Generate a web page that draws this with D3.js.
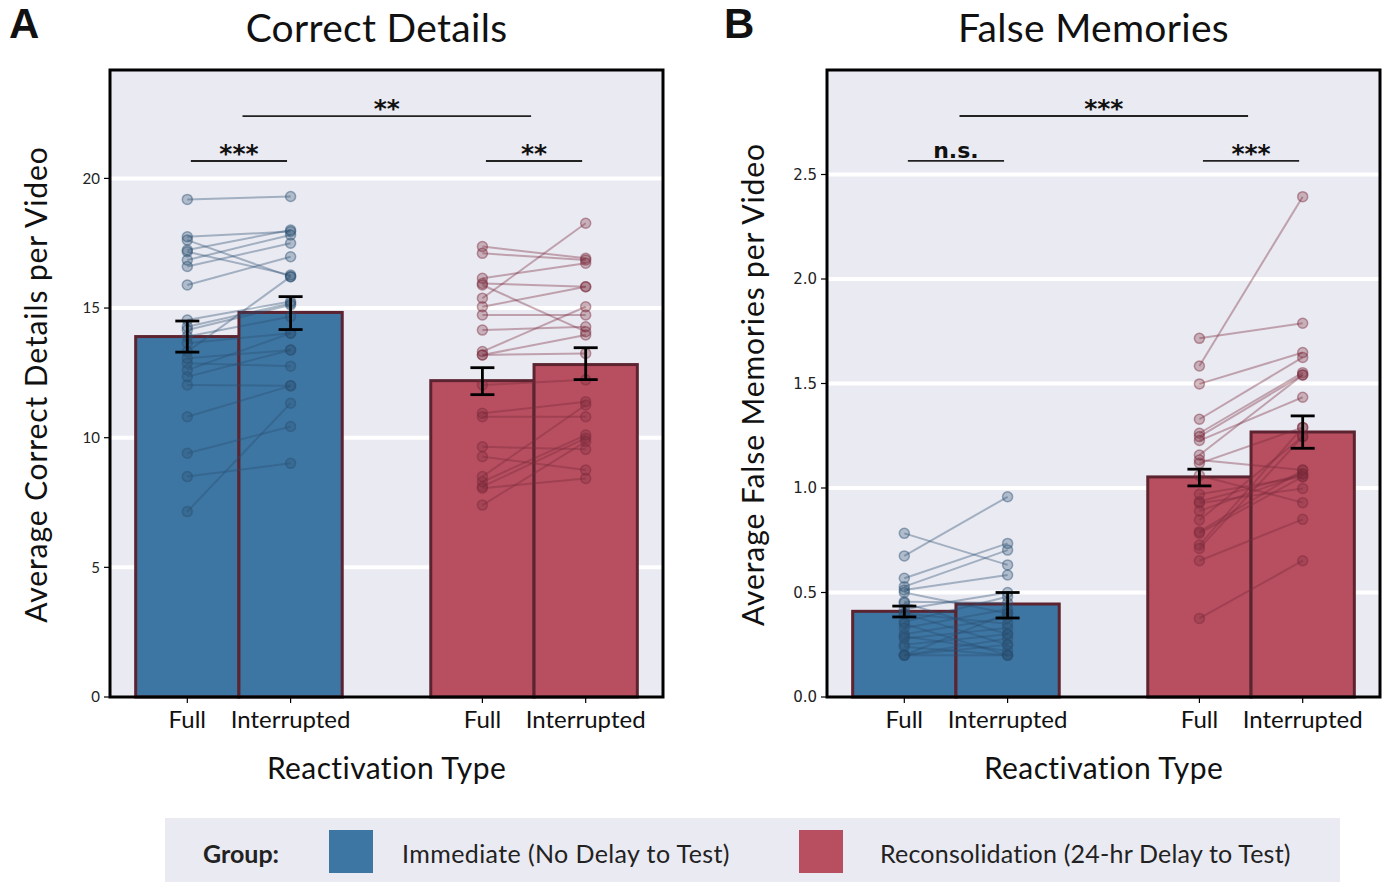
<!DOCTYPE html>
<html>
<head>
<meta charset="utf-8">
<script src="https://cdn.jsdelivr.net/npm/d3@7"></script>
<style>
  html, body { margin: 0; padding: 0; background: #ffffff; }
  svg { display: block; }
</style>
</head>
<body>
<svg id="chart" width="1385" height="882"></svg>
<script>
// ---------------- DATA ----------------
const groups = ["Immediate (No Delay to Test)", "Reconsolidation (24-hr Delay to Test)"];
const conditions = ["Full", "Interrupted"];

// Panel A: Correct details
const correctMeans = [[13.9, 14.83], [12.2, 12.82]];
const correctErrLow = [[13.3, 14.17], [11.66, 12.24]];
const correctErrHigh = [[14.5, 15.44], [12.7, 13.47]];
const correctImmFull = [19.19, 17.75, 17.62, 17.24, 17.17, 16.85, 16.6, 15.89, 14.54, 14.28, 14.15, 13.9, 13.64, 13.32, 13.06, 12.87, 12.61, 12.35, 12.03, 10.81, 9.4, 8.5, 7.15];
const correctImmInt  = [19.3, 17.95, 16.21, 18.01, 16.27, 17.82, 17.5, 16.98, 15.25, 15.18, 15.12, 14.67, 14.03, 16.21, 13.38, 12.76, 14.03, 13.38, 12.0, 12.0, 10.43, 9.01, 11.33];
const correctRecFull = [17.37, 17.11, 16.15, 15.95, 15.89, 15.38, 15.05, 14.73, 14.15, 13.32, 13.19, 13.19, 12.03, 10.94, 10.81, 9.65, 9.27, 8.5, 8.3, 8.11, 8.05, 7.4];
const correctRecInt  = [16.92, 16.85, 16.73, 15.82, 14.09, 18.27, 15.82, 14.73, 14.28, 15.05, 13.96, 13.25, 12.23, 11.39, 10.81, 9.55, 8.75, 11.26, 10.1, 9.98, 8.43, 9.85];
const correctTicks = [0, 5, 10, 15, 20];

// Panel B: False memories
const falseMeans = [[0.41, 0.445], [1.053, 1.268]];
const falseErrLow = [[0.383, 0.378], [1.01, 1.19]];
const falseErrHigh = [[0.435, 0.50], [1.09, 1.345]];
const falseImmFull = [0.783, 0.675, 0.568, 0.528, 0.512, 0.5, 0.456, 0.45, 0.42, 0.4, 0.4, 0.36, 0.35, 0.33, 0.3, 0.29, 0.28, 0.25, 0.24, 0.2, 0.2, 0.2, 0.2];
const falseImmInt  = [0.632, 0.958, 0.735, 0.703, 0.584, 0.4, 0.45, 0.3, 0.5, 0.35, 0.25, 0.48, 0.2, 0.42, 0.38, 0.22, 0.33, 0.3, 0.2, 0.25, 0.28, 0.2, 0.4];
const falseRecFull = [1.716, 1.584, 1.498, 1.329, 1.262, 1.246, 1.227, 1.158, 1.134, 1.118, 1.06, 0.97, 0.935, 0.927, 0.89, 0.847, 0.791, 0.783, 0.727, 0.711, 0.652, 0.376];
const falseRecInt  = [1.788, 2.394, 1.648, 1.625, 1.552, 1.541, 1.434, 1.541, 1.086, 1.29, 0.93, 1.054, 1.067, 0.998, 1.067, 1.246, 1.086, 1.054, 1.29, 1.246, 0.85, 0.652];
const falseTicks = [0.0, 0.5, 1.0, 1.5, 2.0, 2.5];

// Significance annotations: [group, side] endpoints (side 0 = group center, -1/1 = bar)
const correctSig = [
  { from: [0, 0], to: [1, 0], at: 22.4, label: "**" },
  { from: [0, -1], to: [0, 1], at: 20.67, label: "***" },
  { from: [1, -1], to: [1, 1], at: 20.67, label: "**" }
];
const falseSig = [
  { from: [0, 0], to: [1, 0], at: 2.78, label: "***" },
  { from: [0, -1], to: [0, 1], at: 2.565, label: "n.s." },
  { from: [1, -1], to: [1, 1], at: 2.565, label: "***" }
];

// ---------------- STYLE ----------------
const blue = "#3e76a3";
const red = "#b84f60";
const edge = "#5b2430";
const lineColors = ["#2a4f70", "#7a2a3c"];
const bg = "#eaeaf2";
const gillFont = "Lato, 'Open Sans', sans-serif";

const svg = d3.select("#chart");

function drawPanel(cfg) {
  const { x0, x1, y0, y1, yMax, means, lo, hi, pts, ticks, sig, title, letter, letterX, ylabel, tickFont, tickFmt } = cfg;
  const g = svg.append("g");
  const x = d3.scaleLinear().domain([-0.437, 1.437]).range([x0, x1]);
  const y = d3.scaleLinear().domain([0, yMax]).range([y1, y0]);
  const half = 0.35;
  const off = [-0.175, 0.175];

  g.append("rect").attr("x", x0).attr("y", y0).attr("width", x1 - x0).attr("height", y1 - y0).attr("fill", bg);
  g.selectAll("line.grid").data(ticks.filter(t => t > 0)).join("line")
    .attr("x1", x0).attr("x2", x1).attr("y1", d => y(d)).attr("y2", d => y(d))
    .attr("stroke", "#ffffff").attr("stroke-width", 4);

  const barData = [];
  for (let gi = 0; gi < 2; gi++) for (let ci = 0; ci < 2; ci++) barData.push({ gi, ci, v: means[gi][ci], lo: lo[gi][ci], hi: hi[gi][ci] });
  g.selectAll("rect.bar").data(barData).join("rect")
    .attr("x", d => x(d.gi + off[d.ci] - half / 2))
    .attr("width", d => x(half) - x(0))
    .attr("y", d => y(d.v))
    .attr("height", d => y(0) - y(d.v))
    .attr("fill", d => d.gi === 0 ? blue : red)
    .attr("stroke", edge).attr("stroke-width", 3);

  for (let gi = 0; gi < 2; gi++) {
    const a = pts[gi][0], b = pts[gi][1];
    const n = Math.min(a.length, b.length);
    const xa = x(gi + off[0]), xb = x(gi + off[1]);
    const lg = g.append("g");
    for (let i = 0; i < n; i++) {
      lg.append("line").attr("x1", xa).attr("x2", xb).attr("y1", y(a[i])).attr("y2", y(b[i]))
        .attr("stroke", lineColors[gi]).attr("stroke-opacity", 0.38).attr("stroke-width", 2);
    }
    [[a, xa], [b, xb]].forEach(([arr, xx]) => {
      lg.selectAll(null).data(arr.slice(0, n)).join("circle")
        .attr("cx", xx).attr("cy", d => y(d)).attr("r", 5)
        .attr("fill", lineColors[gi]).attr("fill-opacity", 0.3)
        .attr("stroke", lineColors[gi]).attr("stroke-opacity", 0.45).attr("stroke-width", 1.5);
    });
  }

  const eb = g.append("g").attr("stroke", "#000").attr("stroke-width", 2.8);
  barData.forEach(d => {
    const cx = x(d.gi + off[d.ci]);
    eb.append("line").attr("x1", cx).attr("x2", cx).attr("y1", y(d.lo)).attr("y2", y(d.hi));
    eb.append("line").attr("x1", cx - 12).attr("x2", cx + 12).attr("y1", y(d.lo)).attr("y2", y(d.lo));
    eb.append("line").attr("x1", cx - 12).attr("x2", cx + 12).attr("y1", y(d.hi)).attr("y2", y(d.hi));
  });

  sig.forEach(s => {
    const xs = s.from[1] === 0 ? x(s.from[0] + 0.012) : x(s.from[0] + s.from[1] * 0.175 + 0.012);
    const xe = s.to[1] === 0 ? x(s.to[0] - 0.01) : x(s.to[0] + s.to[1] * 0.175 - 0.012);
    g.append("line").attr("x1", xs).attr("x2", xe).attr("y1", y(s.at)).attr("y2", y(s.at))
      .attr("stroke", "#222").attr("stroke-width", 1.8);
    const isNS = s.label === "n.s.";
    g.append("text").attr("x", (xs + xe) / 2).attr("y", y(s.at) - (isNS ? 3 : -1))
      .attr("text-anchor", "middle")
      .attr("font-family", "'DejaVu Sans', sans-serif")
      .attr("font-weight", "bold")
      .attr("font-size", isNS ? 22 : 25)
      .attr("fill", "#111").text(s.label);
  });

  g.append("rect").attr("x", x0).attr("y", y0).attr("width", x1 - x0).attr("height", y1 - y0)
    .attr("fill", "none").attr("stroke", "#000").attr("stroke-width", 3);

  ticks.forEach(t => {
    g.append("line").attr("x1", x0 - 6).attr("x2", x0).attr("y1", y(t)).attr("y2", y(t)).attr("stroke", "#000").attr("stroke-width", 1.2);
    g.append("text").attr("x", x0 - 10).attr("y", y(t)).attr("dy", "0.35em").attr("text-anchor", "end")
      .attr("font-family", tickFont).attr("font-size", 15).attr("fill", "#222").text(tickFmt(t));
  });
  for (let gi = 0; gi < 2; gi++) for (let ci = 0; ci < 2; ci++) {
    const cx = x(gi + off[ci]);
    g.append("line").attr("x1", cx).attr("x2", cx).attr("y1", y1).attr("y2", y1 + 6).attr("stroke", "#000").attr("stroke-width", 1.2);
    g.append("text").attr("x", cx).attr("y", y1 + 31).attr("text-anchor", "middle")
      .attr("font-family", gillFont).attr("font-size", 24).attr("fill", "#111").text(conditions[ci]);
  }
  g.append("text").attr("x", (x(0) + x(1)) / 2).attr("y", y1 + 82).attr("text-anchor", "middle")
    .attr("font-family", gillFont).attr("font-size", 30).attr("letter-spacing", 0.4).attr("fill", "#111").text("Reactivation Type");
  g.append("text").attr("transform", `translate(${x0 - 63},${(y0 + y1) / 2 + 1}) rotate(-90)`)
    .attr("text-anchor", "middle").attr("font-family", gillFont).attr("font-size", 30).attr("letter-spacing", 0.9)
    .attr("fill", "#111").text(ylabel);
  g.append("text").attr("x", (x0 + x1) / 2 - 10).attr("y", 42).attr("text-anchor", "middle")
    .attr("font-family", gillFont).attr("font-size", 39).attr("letter-spacing", 0.3).attr("fill", "#111").text(title);
  g.append("text").attr("x", letterX).attr("y", 38).attr("font-family", "'Liberation Sans', Arial, sans-serif")
    .attr("font-weight", "bold").attr("font-size", 42).attr("fill", "#111").text(letter);
}

drawPanel({
  x0: 110, x1: 663, y0: 70, y1: 697, yMax: 24.18,
  means: correctMeans, lo: correctErrLow, hi: correctErrHigh,
  pts: [[correctImmFull, correctImmInt], [correctRecFull, correctRecInt]],
  ticks: correctTicks, sig: correctSig, title: "Correct Details", letter: "A", letterX: 9,
  ylabel: "Average Correct Details per Video", tickFont: gillFont, tickFmt: d3.format("d")
});
drawPanel({
  x0: 827, x1: 1380, y0: 70, y1: 697, yMax: 3.0,
  means: falseMeans, lo: falseErrLow, hi: falseErrHigh,
  pts: [[falseImmFull, falseImmInt], [falseRecFull, falseRecInt]],
  ticks: falseTicks, sig: falseSig, title: "False Memories", letter: "B", letterX: 724,
  ylabel: "Average False Memories per Video", tickFont: "'DejaVu Sans', sans-serif", tickFmt: d3.format(".1f")
});

// ---------------- LEGEND ----------------
const leg = svg.append("g");
leg.append("rect").attr("x", 165).attr("y", 818).attr("width", 1175).attr("height", 64).attr("fill", bg);
leg.append("text").attr("x", 203).attr("y", 863).attr("font-family", gillFont).attr("font-weight", "bold")
  .attr("font-size", 25).attr("fill", "#222").text("Group:");
const legX = [329, 799];
const legTextX = [402, 880];
groups.forEach((gname, i) => {
  leg.append("rect").attr("x", legX[i]).attr("y", 830).attr("width", 44).attr("height", 43).attr("fill", i === 0 ? blue : red);
  leg.append("text").attr("x", legTextX[i]).attr("y", 863).attr("font-family", gillFont)
    .attr("font-size", 25).attr("letter-spacing", i === 0 ? 0.4 : 0.2).attr("fill", "#222").text(gname);
});
</script>
</body>
</html>
